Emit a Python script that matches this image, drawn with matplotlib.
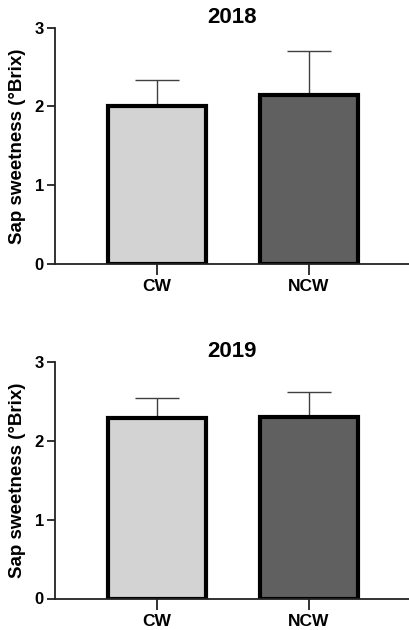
import matplotlib
matplotlib.use("Agg")
import matplotlib.pyplot as plt
import numpy as np

plt.rcParams['font.family'] = ['Liberation Sans', 'DejaVu Sans']
plt.rcParams['font.weight'] = 'bold'

groups = ["CW", "NCW"]
years = ["2018", "2019"]
means_2018 = [2.00, 2.14]
sd_2018 = [0.33, 0.56]
means_2019 = [2.28, 2.30]
sd_2019 = [0.26, 0.31]
bar_colors = ["#d3d3d3", "#606060"]
y_ticks = [0, 1, 2, 3]

fig = plt.figure(figsize=(4.1, 6.3), dpi=100)
ax_top = fig.add_axes([0.134, 0.581, 0.866, 0.375])
ax_bot = fig.add_axes([0.134, 0.050, 0.866, 0.376])

x = np.arange(len(groups))

for ax, year, means, sd in [(ax_top, years[0], means_2018, sd_2018),
                            (ax_bot, years[1], means_2019, sd_2019)]:
    ax.errorbar(x, means, yerr=[np.zeros(len(sd)), sd], fmt='none',
                ecolor='#404040', elinewidth=1.0, capsize=16, capthick=1.0, zorder=1)
    ax.bar(x, means, width=0.645, color=bar_colors, edgecolor='black',
           linewidth=3.0, zorder=2)
    ax.set_xlim(-0.671, 1.664)
    ax.set_ylim(0, 3)
    ax.set_yticks(y_ticks)
    ax.set_xticks(x)
    ax.set_xticklabels(groups, fontsize=12.5, fontweight='bold')
    ax.tick_params(axis='y', labelsize=12, length=6, width=1.3, color='#222222', pad=2)
    ax.tick_params(axis='x', length=8, width=1.3, color='#222222', pad=3)
    for lab in ax.get_yticklabels():
        lab.set_fontweight('bold')
    ax.spines['top'].set_visible(False)
    ax.spines['right'].set_visible(False)
    ax.spines['left'].set_linewidth(1.3)
    ax.spines['bottom'].set_linewidth(1.3)
    ax.spines['left'].set_color('#222222')
    ax.spines['bottom'].set_color('#222222')
    ax.set_ylabel("Sap sweetness (°Brix)", fontsize=13.5, fontweight='bold', labelpad=6)
    ax.set_title(year, fontsize=16, fontweight='bold', pad=1)

fig.savefig("out.png", dpi=100)
